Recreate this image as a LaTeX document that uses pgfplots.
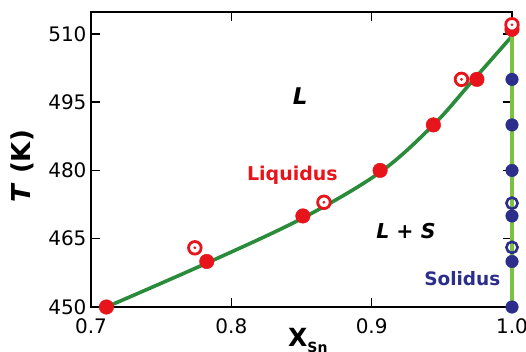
\documentclass[border=0pt]{standalone}
\usepackage{fontspec}
\setmainfont{DejaVu Sans}
\usepackage{pgfplots}
\pgfplotsset{compat=1.18}
\definecolor{lred}{HTML}{E8141C}
\definecolor{sblue}{HTML}{2B2E8A}
\definecolor{dgreen}{HTML}{2A8C3A}
\definecolor{lgreen}{HTML}{7CC242}
\begin{document}
\begin{tikzpicture}
\useasboundingbox (-91pt,-44pt) rectangle (435pt,307pt);
\begin{axis}[
  scale only axis, width=421pt, height=295pt,
  xmin=0.7, xmax=1.0, ymin=450, ymax=514.8,
  xtick={0.7,0.8,0.9,1.0}, ytick={450,465,480,495,510},
  xticklabels={0.7,0.8,0.9,1.0},
  tick align=inside, major tick length=9pt,
  axis line style={line width=1.6pt},
  every tick/.style={black, line width=1.3pt},
  tick label style={font=\fontsize{20}{20}\selectfont},
  /pgf/number format/assume math mode=true,
  xticklabel style={yshift=-8pt},
  yticklabel style={xshift=-1pt},
  clip=false,
  xlabel={\textbf{X}\raisebox{-6pt}{\fontsize{14}{14}\selectfont\textbf{Sn}}},
  xlabel style={at={(axis description cs:0.515,0)}, anchor=north, inner sep=0pt, yshift=-21pt, font=\fontsize{25}{25}\selectfont},
  ylabel={\textbf{\textit{T} (K)}},
  ylabel style={at={(axis description cs:-0.164,0.477)}, anchor=center, rotate=0, inner sep=0pt, font=\fontsize{26}{26}\selectfont},
]
% liquidus curve
\addplot[dgreen, line width=3.6pt, smooth, tension=0.55] coordinates {
 (0.711,450) (0.78,459.3) (0.85,469.4) (0.906,479.6) (0.944,490) (0.97,499) (1.0,509.5)
};
% solidus line
\addplot[lgreen, line width=3.6pt] coordinates {(1.0,450) (1.0,511)};
% liquidus filled
\addplot[only marks, mark=*, mark size=7.3pt, color=lred] coordinates {
 (0.711,450) (0.7825,460) (0.851,470) (0.906,480) (0.944,490) (0.975,500) (1.0,511)
};
% liquidus open
\addplot[only marks, mark=*, mark size=6.3pt, mark options={draw=lred, fill=white, line width=2.8pt}] coordinates {
 (0.774,463) (0.866,473) (0.964,500) (1.0,512)
};
\addplot[only marks, mark=*, mark size=1.2pt, color=lred] coordinates {
 (0.774,463) (0.866,473) (0.964,500) (1.0,512)
};
% solidus filled
\addplot[only marks, mark=*, mark size=6.3pt, color=sblue] coordinates {
 (1.0,500) (1.0,490) (1.0,480) (1.0,470) (1.0,460) (1.0,450)
};
% solidus open
\addplot[only marks, mark=o, mark size=5.6pt, mark options={draw=sblue, line width=2.6pt}] coordinates {
 (1.0,472.8) (1.0,463.1)
};
\node[anchor=base, font=\fontsize{23}{23}\selectfont\bfseries\itshape] at (axis cs:0.849,494.4) {L};
\node[anchor=base, font=\fontsize{19}{19}\selectfont\bfseries, text=lred] at (axis cs:0.8435,477.7) {Liquidus};
\node[anchor=base, font=\fontsize{20.5}{20.5}\selectfont\bfseries\itshape] at (axis cs:0.9244,465.1) {L + S};
\node[anchor=base, font=\fontsize{18.5}{18.5}\selectfont\bfseries, text=sblue] at (axis cs:0.9646,454.8) {Solidus};
\end{axis}
\end{tikzpicture}
\end{document}
